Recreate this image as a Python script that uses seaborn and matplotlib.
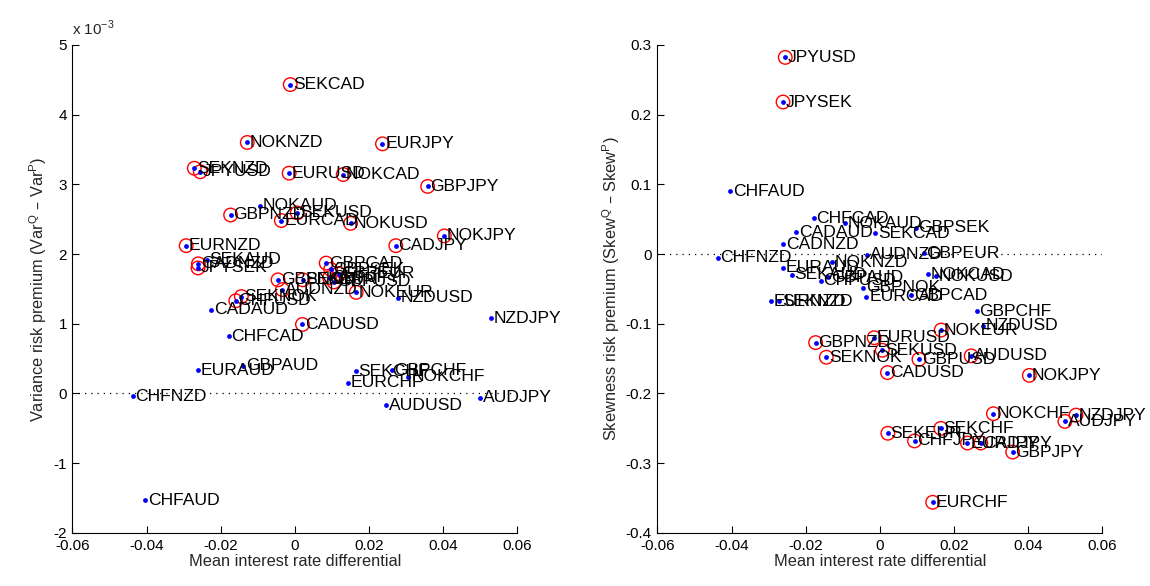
import matplotlib
matplotlib.use("Agg")
import matplotlib.pyplot as plt
import seaborn as sns
import pandas as pd

# ---------------- data ----------------
pairs = ["CADAUD", "CHFAUD", "EURAUD", "GBPAUD", "AUDJPY", "NOKAUD", "AUDNZD", "SEKAUD", "AUDUSD",
         "CHFCAD", "EURCAD", "GBPCAD", "CADJPY", "NOKCAD", "CADNZD", "SEKCAD", "CADUSD",
         "EURCHF", "GBPCHF", "CHFJPY", "NOKCHF", "CHFNZD", "SEKCHF", "CHFUSD",
         "GBPEUR", "EURJPY", "NOKEUR", "EURNZD", "SEKEUR", "EURUSD",
         "GBPJPY", "GBPNOK", "GBPNZD", "GBPSEK", "GBPUSD",
         "NOKJPY", "NZDJPY", "JPYSEK", "JPYUSD",
         "NOKNZD", "SEKNOK", "NOKUSD",
         "SEKNZD", "NZDUSD",
         "SEKUSD"]

# mean interest rate differential
ird = [-0.0225, -0.0403, -0.0261, -0.0139, 0.0500, -0.0094, -0.0033, -0.0238, 0.0247,
       -0.0178, -0.0036, 0.0085, 0.0273, 0.0131, -0.0260, -0.0012, 0.0021,
       0.0143, 0.0262, 0.0094, 0.0307, -0.0437, 0.0165, -0.0159,
       0.0119, 0.0237, 0.0166, -0.0293, 0.0022, -0.0015,
       0.0359, -0.0045, -0.0173, 0.0097, 0.0106,
       0.0404, 0.0530, -0.0261, -0.0255,
       -0.0128, -0.0144, 0.0151,
       -0.0271, 0.0278,
       0.0007]

# variance risk premium (units of 1e-3)
vrp = [1.20, -1.53, 0.33, 0.40, -0.06, 2.69, 1.49, 1.92, -0.17,
       0.82, 2.48, 1.87, 2.12, 3.14, 1.86, 4.43, 0.99,
       0.157, 0.33, 1.66, 0.24, -0.04, 0.32, 1.33,
       1.72, 3.58, 1.45, 2.12, 1.63, 3.16,
       2.97, 1.63, 2.56, 1.78, 1.60,
       2.26, 1.08, 1.80, 3.18,
       3.60, 1.39, 2.44,
       3.23, 1.37,
       2.59]

# skewness risk premium
srp = [0.031, 0.090, -0.020, -0.033, -0.240, 0.044, -0.001, -0.030, -0.146,
       0.051, -0.061, -0.059, -0.271, -0.029, 0.014, 0.030, -0.170,
       -0.356, -0.082, -0.268, -0.229, -0.005, -0.250, -0.038,
       0.001, -0.271, -0.109, -0.068, -0.257, -0.120,
       -0.284, -0.048, -0.127, 0.038, -0.151,
       -0.174, -0.231, 0.218, 0.282,
       -0.012, -0.148, -0.032,
       -0.068, -0.103,
       -0.138]

vrp_significant = ["SEKCAD", "NOKNZD", "EURJPY", "SEKNZD", "JPYUSD", "EURUSD", "NOKCAD", "GBPJPY",
                   "GBPNZD", "SEKUSD", "EURCAD", "NOKUSD", "NOKJPY", "EURNZD", "CADJPY", "CADNZD",
                   "JPYSEK", "GBPCAD", "CHFJPY", "GBPSEK", "GBPUSD", "GBPEUR", "GBPNOK", "SEKEUR",
                   "AUDNZD", "SEKNOK", "CHFUSD", "NOKEUR", "CADUSD"]
srp_significant = ["JPYUSD", "JPYSEK", "NOKEUR", "EURUSD", "GBPNZD", "SEKUSD", "SEKNOK", "GBPUSD",
                   "AUDUSD", "CADUSD", "NOKJPY", "NOKCHF", "NZDJPY", "AUDJPY", "SEKEUR", "SEKCHF",
                   "CHFJPY", "EURJPY", "CADJPY", "GBPJPY", "EURCHF"]

x_ticks = [-0.06, -0.04, -0.02, 0, 0.02, 0.04, 0.06]
x_tick_labels = ["-0.06", "-0.04", "-0.02", "0", "0.02", "0.04", "0.06"]
vrp_ticks = [-2, -1, 0, 1, 2, 3, 4, 5]
srp_ticks = [-0.4, -0.3, -0.2, -0.1, 0, 0.1, 0.2, 0.3]
srp_tick_labels = ["-0.4", "-0.3", "-0.2", "-0.1", "0", "0.1", "0.2", "0.3"]

# ---------------- style ----------------
sns.set_theme(style="white")
plt.rcParams["font.family"] = ["Liberation Sans", "DejaVu Sans"]
plt.rcParams["axes.unicode_minus"] = False
plt.rcParams["xtick.direction"] = "in"
plt.rcParams["ytick.direction"] = "in"

df = pd.DataFrame({"pair": pairs, "ird": ird, "vrp": vrp, "srp": srp})
df["vrp_sig"] = df["pair"].isin(vrp_significant)
df["srp_sig"] = df["pair"].isin(srp_significant)

fig = plt.figure(figsize=(11.5, 5.86), dpi=100)
ax1 = fig.add_axes([0.063, 0.0905, 0.3865, 0.833])
ax2 = fig.add_axes([0.5717, 0.0905, 0.3865, 0.833])

label_fs = 12.6
tick_fs = 11
axis_label_fs = 11.8


def panel(ax, ycol, sigcol, ylim, yticks, ylabel):
    ax.plot([-0.06, 0.06], [0, 0], linestyle=(0, (1, 4)), color="black", linewidth=0.9, zorder=1)
    sns.scatterplot(data=df[df[sigcol]], x="ird", y=ycol, ax=ax, marker="o", s=95,
                    facecolors="none", edgecolor="red", linewidth=1.0, zorder=3, legend=False)
    sns.scatterplot(data=df, x="ird", y=ycol, ax=ax, marker="o", s=12, color="blue",
                    edgecolor="blue", linewidth=0, zorder=4, legend=False)
    for _, r in df.iterrows():
        ax.annotate(r["pair"], (r["ird"], r[ycol]), xytext=(2, 0), textcoords="offset points",
                    ha="left", va="center", fontsize=label_fs, color="black", zorder=5)
    ax.set_xlim(-0.06, 0.06)
    ax.set_ylim(*ylim)
    ax.set_xticks(x_ticks)
    ax.set_xticklabels(x_tick_labels, fontsize=tick_fs)
    ax.set_yticks(yticks)
    ax.tick_params(axis="both", which="both", direction="in", length=5, width=0.8,
                   colors="black", labelsize=tick_fs, bottom=True, left=True, pad=4)
    ax.set_xlabel("Mean interest rate differential", fontsize=axis_label_fs, labelpad=1)
    ax.set_ylabel(ylabel, fontsize=axis_label_fs, labelpad=3)
    for s in ["top", "right"]:
        ax.spines[s].set_visible(False)
    for s in ["left", "bottom"]:
        ax.spines[s].set_color("black")
        ax.spines[s].set_linewidth(0.8)


panel(ax1, "vrp", "vrp_sig", (-2, 5), vrp_ticks,
      r"Variance risk premium (Var$^\mathregular{Q}$ – Var$^\mathregular{P}$)")
ax1.set_yticklabels([str(t) for t in vrp_ticks], fontsize=tick_fs)
ax1.text(0.0, 1.015, r"x 10$^\mathregular{-3}$", transform=ax1.transAxes, fontsize=tick_fs,
         ha="left", va="bottom")

panel(ax2, "srp", "srp_sig", (-0.4, 0.3), srp_ticks,
      r"Skewness risk premium (Skew$^\mathregular{Q}$ – Skew$^\mathregular{P}$)")
ax2.set_yticklabels(srp_tick_labels, fontsize=tick_fs)

fig.savefig("out.png", dpi=100, facecolor="white")
